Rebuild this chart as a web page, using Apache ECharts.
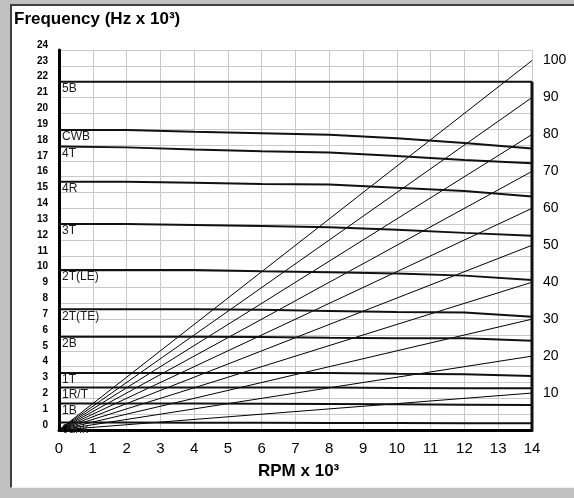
<!DOCTYPE html>
<html>
<head>
<meta charset="utf-8">
<script src="https://cdn.jsdelivr.net/npm/echarts@6/dist/echarts.min.js"></script>
<style>
  html, body { margin: 0; padding: 0; background: #c0c0c0; width: 574px; height: 498px; overflow: hidden; }
  #frame { position: absolute; left: 10px; top: 4px; width: 564px; height: 484px; background: #fff;
           border-left: 2px solid #404040; border-top: 2px solid #404040; border-bottom: 1px solid #efefef; box-sizing: border-box; }
  #chart { position: absolute; left: 0; top: 0; width: 574px; height: 498px; }
</style>
</head>
<body>
<div id="frame"></div>
<div id="chart"></div>
<script>
// RPM (x 10^3) sample points for mode lines
const rpm = [0, 2, 4, 6, 8, 10, 12, 14];
// x-axis tick range
const rpmMin = 0, rpmMax = 14;
// frequency axis range (kHz)
const freqMin = 0, freqMax = 24;
// engine orders drawn as rays
const orders = [10, 20, 30, 40, 50, 60, 70, 80, 90, 100];
// mode names (bottom to top)
const modeNames = ['0unk', '1B', '1R/T', '1T', '2B', '2T(TE)', '2T(LE)', '3T', '4R', '4T', 'CWB', '5B'];
// mode frequencies (kHz) at each rpm sample
const unk  = [0.47, 0.47, 0.46, 0.46, 0.45, 0.44, 0.43, 0.42];
const b1   = [1.68, 1.68, 1.67, 1.66, 1.64, 1.62, 1.60, 1.58];
const rt1  = [2.68, 2.68, 2.68, 2.68, 2.68, 2.66, 2.64, 2.63];
const t1   = [3.60, 3.60, 3.60, 3.60, 3.60, 3.55, 3.52, 3.41];
const b2   = [5.89, 5.89, 5.89, 5.87, 5.82, 5.79, 5.79, 5.64];
const t2te = [7.62, 7.62, 7.62, 7.60, 7.52, 7.45, 7.42, 7.16];
const t2le = [10.10, 10.10, 10.10, 10.02, 9.96, 9.88, 9.75, 9.47];
const t3   = [13.01, 13.01, 12.95, 12.88, 12.80, 12.65, 12.45, 12.27];
const r4   = [15.68, 15.68, 15.62, 15.54, 15.50, 15.30, 15.10, 14.74];
const t4   = [17.90, 17.85, 17.72, 17.60, 17.52, 17.30, 17.05, 16.84];
const cwb  = [18.95, 18.95, 18.84, 18.74, 18.64, 18.42, 18.12, 17.78];
const b5   = [22.0, 22.0, 22.0, 22.0, 22.0, 22.0, 22.0, 22.0];
const modes = [unk, b1, rt1, t1, b2, t2te, t2le, t3, r4, t4, cwb, b5];

const FONT = '"Liberation Sans", Arial, sans-serif';
const chart = echarts.init(document.getElementById('chart'), null, { renderer: 'canvas' });

const series = [];
// order rays: frequency (kHz) = order * rpm(k) / 60
orders.forEach(n => {
  series.push({
    type: 'line', name: 'order ' + n, silent: true, showSymbol: false, animation: false,
    lineStyle: { color: '#000', width: 1 },
    data: [[rpmMin, 0], [rpmMax, n * rpmMax / 60]],
    z: 2
  });
});
// mode lines
modes.forEach((vals, i) => {
  series.push({
    type: 'line', name: modeNames[i], silent: true, showSymbol: false, animation: false,
    lineStyle: { color: '#111', width: 2 },
    data: rpm.map((r, k) => [r, vals[k]]),
    z: 3
  });
});
// right boundary at max rpm up to top mode
series.push({
  type: 'line', name: 'edge', silent: true, showSymbol: false, animation: false,
  lineStyle: { color: '#111', width: 3 },
  data: [[rpmMax, freqMin], [rpmMax, b5[b5.length - 1]]],
  z: 3
});
// mode labels
series.push({
  type: 'scatter', name: 'labels', silent: true, animation: false,
  symbolSize: 0, itemStyle: { color: '#000', opacity: 1 },
  data: modes.map((vals, i) => ({ name: modeNames[i], value: [rpm[0], vals[0]] })),
  label: {
    show: true, position: 'bottom', align: 'left', distance: 1, offset: [3, 0], opacity: 1,
    formatter: p => p.name, color: '#1a1a1a', fontSize: 12, fontFamily: FONT
  },
  z: 4
});

chart.setOption({
  animation: false,
  title: [
    { text: 'Frequency (Hz x 10³)', left: 14, top: 11, padding: 0,
      textStyle: { fontSize: 17, fontWeight: 'bold', color: '#000', fontFamily: FONT } },
    { text: 'RPM x 10³', left: 258, top: 463, padding: 0,
      textStyle: { fontSize: 17, fontWeight: 'bold', color: '#000', fontFamily: FONT } }
  ],
  grid: { left: 59, right: 42, top: 50, bottom: 68, containLabel: false, outerBoundsMode: 'none' },
  xAxis: {
    type: 'value', min: rpmMin, max: rpmMax, interval: 1,
    axisLine: { show: true, onZero: false, lineStyle: { color: '#000', width: 3 } },
    axisTick: { show: false },
    axisLabel: { color: '#000', fontSize: 15, margin: 11, fontFamily: FONT },
    splitLine: { show: true, lineStyle: { color: '#c8c8c8', width: 1 } }
  },
  yAxis: [
    {
      type: 'value', min: freqMin, max: freqMax, interval: 1, position: 'left',
      axisLine: { show: true, onZero: false, lineStyle: { color: '#000', width: 3 } },
      axisTick: { show: false },
      axisLabel: { color: '#000', fontSize: 10, fontWeight: 'bold', margin: 11, verticalAlign: 'bottom', fontFamily: FONT },
      splitLine: { show: true, lineStyle: { color: '#c8c8c8', width: 1 } }
    },
    {
      type: 'value', min: 0, max: freqMax * 60 / rpmMax, interval: 10, position: 'right',
      axisLine: { show: false }, axisTick: { show: false },
      axisLabel: { color: '#000', fontSize: 14, margin: 11, showMinLabel: false, showMaxLabel: false, fontFamily: FONT },
      splitLine: { show: false }
    }
  ],
  series: series
});
</script>
</body>
</html>
